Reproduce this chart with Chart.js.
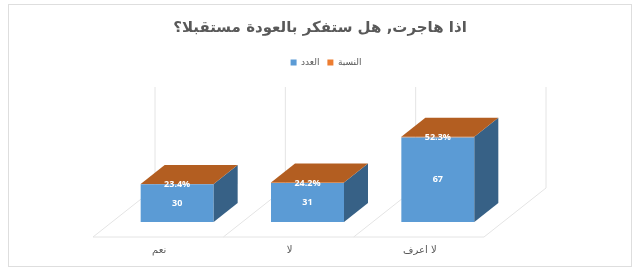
<!DOCTYPE html>
<html>
<head>
<meta charset="utf-8">
<script src="https://cdn.jsdelivr.net/npm/chart.js@4/dist/chart.umd.min.js"></script>
<style>
    html, body { margin: 0; padding: 0; background: #fff; overflow: hidden; }
    #frame { position: absolute; left: 8px; top: 4px; width: 622px; height: 261px; border: 1px solid #dedede; }
    #chart { position: absolute; left: 0; top: 0; }
</style>
</head>
<body>
<div id="frame"></div>
<canvas id="chart" width="640" height="274"></canvas>
<script>
const categories = ["نعم", "لا", "لا اعرف"];
const countValues = [30, 31, 67];
const shareValues = [0.234, 0.242, 0.523];

const seriesNames = ["العدد", "النسبة"];
const titleText = "اذا هاجرت, هل ستفكر بالعودة مستقبلا؟";

const blue = "#5b9bd5";
const blueSide = "#376186";
const orange = "#ed7d31";
const orangeTop = "#b35e21";
const wallColor = "#e4e4e4";

// how far the 3d box goes back, in pixels
const depthX = 24;
const depthY = 19;
// gap between the floor edge and the box, front and back
const gapX = 19;
const gapY = 15;
const wallHeight = 101;
// the legend in the picture sits a little right of the title centre
const legendShift = 6;

const fake3d = {
    id: "fake3d",
    afterLayout(chart) {
        chart.legend.left += legendShift;
        chart.legend.right += legendShift;
    },
    beforeDatasetsDraw(chart) {
        const ctx = chart.ctx;
        const x = chart.scales.x;
        const base = chart.scales.y.getPixelForValue(0);
        const step = x.width / categories.length;
        const backX = gapX + depthX + gapX;
        const backY = gapY + depthY + gapY;
        ctx.save();
        ctx.strokeStyle = wallColor;
        ctx.lineWidth = 1;
        ctx.beginPath();
        for (let i = 0; i <= categories.length; i++) {
            const fx = x.left + step * i - gapX;
            const fy = base + gapY;
            ctx.moveTo(fx, fy);
            ctx.lineTo(fx + backX, fy - backY);
            ctx.lineTo(fx + backX, fy - backY - wallHeight);
        }
        ctx.moveTo(x.left - gapX, base + gapY);
        ctx.lineTo(x.right - gapX, base + gapY);
        ctx.stroke();
        ctx.restore();
    },
    afterDatasetsDraw(chart) {
        const ctx = chart.ctx;
        const y = chart.scales.y;
        const bars = chart.getDatasetMeta(0).data;
        const caps = chart.getDatasetMeta(1).data;
        ctx.save();
        bars.forEach((bar, i) => {
            const half = bar.width / 2;
            const left = bar.x - half;
            const right = bar.x + half;
            const top = caps[i].y;
            const base = y.getPixelForValue(0);

            ctx.fillStyle = blueSide;
            ctx.beginPath();
            ctx.moveTo(right, top);
            ctx.lineTo(right + depthX, top - depthY);
            ctx.lineTo(right + depthX, base - depthY);
            ctx.lineTo(right, base);
            ctx.closePath();
            ctx.fill();

            ctx.fillStyle = orangeTop;
            ctx.beginPath();
            ctx.moveTo(left, top);
            ctx.lineTo(left + depthX, top - depthY);
            ctx.lineTo(right + depthX, top - depthY);
            ctx.lineTo(right, top);
            ctx.closePath();
            ctx.fill();

            ctx.fillStyle = "#fff";
            ctx.textAlign = "center";
            ctx.textBaseline = "middle";
            ctx.font = "bold 9px 'Open Sans', sans-serif";
            ctx.fillText(countValues[i], bar.x, (bar.y + base) / 2);
            ctx.fillText((shareValues[i] * 100).toFixed(1) + "%", bar.x, top + 1);
        });
        ctx.restore();
    }
};

new Chart(document.getElementById("chart"), {
    type: "bar",
    data: {
        labels: categories,
        datasets: [
            { label: seriesNames[0], data: countValues, backgroundColor: blue, stack: "a" },
            { label: seriesNames[1], data: shareValues, backgroundColor: orange, stack: "a" },
        ],
    },
    options: {
        responsive: false,
        animation: false,
        devicePixelRatio: 1,
        datasets: { bar: { categoryPercentage: 1, barPercentage: 0.56 } },
        scales: {
            x: {
                stacked: true,
                grid: { display: false, drawTicks: false },
                border: { display: false },
                afterFit: (s) => { s.height = 52; },
                ticks: {
                    maxRotation: 0,
                    labelOffset: -18,
                    padding: 22,
                    color: "#595959",
                    font: { family: "'DejaVu Sans'", size: 10 },
                },
            },
            y: {
                stacked: true,
                min: 0,
                max: 115,
                grid: { display: false },
                border: { display: false },
                ticks: { display: false },
                afterFit: (s) => { s.width = 112; },
            },
            // empty axis, only keeps the room on the right of the bars
            yRight: {
                position: "right",
                grid: { display: false },
                border: { display: false },
                ticks: { display: false },
                afterFit: (s) => { s.width = 137; },
            },
        },
        plugins: {
            title: {
                display: true,
                text: titleText,
                color: "#595959",
                font: { family: "'DejaVu Sans'", size: 15, weight: "bold" },
                padding: { top: 19, bottom: 13 },
            },
            legend: {
                display: true,
                position: "top",
                labels: {
                    boxWidth: 6,
                    boxHeight: 6,
                    padding: 8,
                    color: "#595959",
                    font: { family: "'DejaVu Sans'", size: 9 },
                },
            },
            tooltip: { enabled: false },
        },
    },
    plugins: [fake3d],
});
</script>
</body>
</html>
